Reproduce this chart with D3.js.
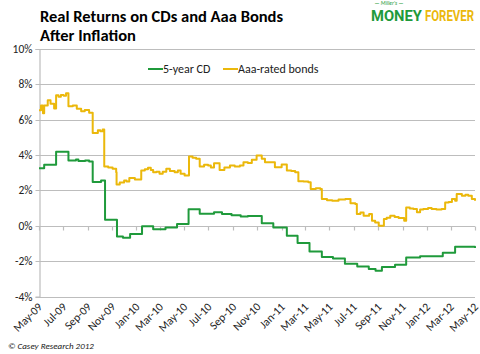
<!DOCTYPE html>
<html>
<head>
<meta charset="utf-8">
<script src="https://cdn.jsdelivr.net/npm/d3@7"></script>
<style>
  body { margin: 0; background: #fff; }
  svg { display: block; font-family: Calibri, Carlito, Lato, sans-serif; }
</style>
</head>
<body>
<svg id="chart" width="480" height="354"></svg>
<script>
// 5-year CD real return, step changes (date, %)
const cdDates = ['2009-05-01','2009-05-14','2009-06-13','2009-07-14','2009-08-02','2009-08-08','2009-08-25','2009-09-04',
  '2009-09-13','2009-10-04','2009-10-14','2009-11-13','2009-11-28','2009-12-16','2010-01-15','2010-02-12','2010-03-15',
  '2010-04-13','2010-05-12','2010-06-09','2010-07-15','2010-08-04','2010-08-28','2010-09-20','2010-10-08','2010-11-12',
  '2010-12-11','2011-01-14','2011-02-10','2011-03-12','2011-04-12','2011-05-10','2011-06-09','2011-07-10','2011-08-08',
  '2011-08-25','2011-09-10','2011-10-13','2011-11-10','2011-12-15','2012-02-10','2012-03-12','2012-05-01'];
const cdValues = [3.26, 3.45, 4.19, 3.69, 3.75, 3.67, 3.70, 3.63,
  2.48, 2.56, 0.34, -0.60, -0.68, -0.47, -0.02, -0.20, -0.10,
  0.10, 0.93, 0.68, 0.76, 0.66, 0.60, 0.52, 0.55, 0.15,
  -0.10, -0.57, -0.98, -1.46, -1.76, -1.85, -2.15, -2.30, -2.45,
  -2.55, -2.33, -2.20, -1.80, -1.72, -1.52, -1.19, -1.25];

// Aaa-rated bonds real return (date, %)
const aaaDates = ['2009-05-01','2009-05-06','2009-05-11','2009-05-14','2009-05-23','2009-05-30','2009-06-08','2009-06-13',
  '2009-06-19','2009-06-25','2009-07-02','2009-07-08','2009-07-14','2009-07-25','2009-08-04','2009-08-15','2009-08-24',
  '2009-09-04','2009-09-13','2009-09-26','2009-10-02','2009-10-08','2009-10-12','2009-10-22','2009-11-02','2009-11-11',
  '2009-11-12','2009-11-20','2009-12-01','2009-12-07','2009-12-14','2009-12-28','2010-01-13','2010-01-22','2010-01-30',
  '2010-02-06','2010-02-12','2010-02-20','2010-02-28','2010-03-08','2010-03-17','2010-03-26','2010-04-07','2010-04-15',
  '2010-04-22','2010-05-02','2010-05-13','2010-05-22','2010-05-31','2010-06-09','2010-06-20','2010-06-30','2010-07-07',
  '2010-07-15','2010-07-29','2010-08-10','2010-08-24','2010-09-05','2010-09-18','2010-09-27','2010-10-08','2010-10-18',
  '2010-10-30','2010-11-12','2010-11-20','2010-12-07','2010-12-15','2011-01-01','2011-01-14','2011-01-25','2011-02-04',
  '2011-02-12','2011-02-25','2011-03-09','2011-03-15','2011-03-28','2011-04-08','2011-04-12','2011-04-25','2011-05-08',
  '2011-05-24','2011-06-10','2011-06-23','2011-07-05','2011-07-09','2011-07-18','2011-07-26','2011-08-09','2011-08-16',
  '2011-08-24','2011-09-02','2011-09-15','2011-09-22','2011-10-01','2011-10-12','2011-10-22','2011-11-05','2011-11-10',
  '2011-11-19','2011-11-28','2011-12-07','2011-12-15','2011-12-23','2012-01-04','2012-01-13','2012-01-25','2012-02-07',
  '2012-02-16','2012-02-25','2012-03-04','2012-03-12','2012-03-16','2012-03-29','2012-04-07','2012-04-14','2012-04-23',
  '2012-05-01'];
const aaaValues = [6.53, 6.80, 6.36, 6.80, 7.10, 6.90, 6.63, 7.39,
  7.30, 7.40, 7.35, 7.50, 6.76, 6.80, 6.62, 6.48, 6.55,
  6.40, 5.25, 5.40, 5.35, 5.44, 3.35, 3.30, 3.22, 3.03,
  2.33, 2.45, 2.56, 2.50, 2.71, 2.62, 3.13, 3.20, 3.28,
  3.15, 3.03, 3.05, 2.94, 3.05, 3.22, 3.10, 3.03, 3.13,
  2.95, 2.84, 3.92, 3.85, 3.79, 3.35, 3.45, 3.41, 3.30,
  3.54, 3.16, 3.30, 3.41, 3.35, 3.41, 3.60, 3.55, 3.73,
  3.98, 3.79, 3.60, 3.60, 3.31, 3.47, 3.13, 3.10, 3.03,
  2.52, 2.50, 2.46, 2.08, 2.12, 2.08, 1.52, 1.45, 1.42,
  1.48, 1.52, 1.27, 1.23, 0.66, 0.75, 0.57, 0.66, 0.28,
  0.19, 0.00, 0.38, 0.45, 0.57, 0.50, 0.44, 0.28, 1.04,
  0.98, 0.95, 0.76, 0.92, 0.95, 1.00, 0.95, 0.92, 0.95,
  1.32, 1.35, 1.52, 1.42, 1.80, 1.70, 1.75, 1.70, 1.52,
  1.42];

const yTicks = [-4, -2, 0, 2, 4, 6, 8, 10];
const titleLines = ['Real Returns on CDs and Aaa Bonds', 'After Inflation'];
const seriesNames = ['5-year CD', 'Aaa-rated bonds'];

const GREEN = '#1f9a3b';
const GOLD = '#ebb80b';

const parse = d3.timeParse('%Y-%m-%d');
const cd = cdDates.map((d, i) => ({ date: parse(d), value: cdValues[i] }));
const aaa = aaaDates.map((d, i) => ({ date: parse(d), value: aaaValues[i] }));

const svg = d3.select('#chart');
const margin = { left: 39, right: 5, top: 49, bottom: 58 };
const width = 480, height = 354;

const x = d3.scaleTime()
  .domain([parse('2009-05-01'), parse('2012-05-01')])
  .range([margin.left, width - margin.right]);
const y = d3.scaleLinear()
  .domain([-4, 10])
  .range([height - margin.bottom + 0.5, margin.top]);

// gridlines
svg.append('g')
  .selectAll('line')
  .data(yTicks)
  .enter()
  .append('line')
  .attr('x1', margin.left).attr('x2', width - margin.right)
  .attr('y1', d => Math.round(y(d)) + 0.5).attr('y2', d => Math.round(y(d)) + 0.5)
  .attr('stroke', '#bdbdbd').attr('stroke-width', 1.2);

// y axis
const yAxis = svg.append('g')
  .attr('transform', `translate(${margin.left + 0.5},0)`)
  .call(d3.axisLeft(y).tickValues(yTicks).tickSize(4).tickPadding(3).tickFormat(d => d + '%'));
yAxis.select('.domain').attr('stroke', '#bdbdbd').attr('stroke-width', 1.2);
yAxis.selectAll('.tick line').attr('stroke', '#bdbdbd');
yAxis.selectAll('.tick text').attr('font-size', 11.5).attr('fill', '#222').attr('font-family', 'Calibri, Carlito, Lato, sans-serif');
yAxis.selectAll('.tick').attr('transform', d => `translate(0,${Math.round(y(d)) + 0.5})`);

// x tick marks at 0 line
const xTicks = d3.timeMonth.every(2).range(parse('2009-05-01'), parse('2012-05-02'));
svg.append('g')
  .selectAll('line')
  .data(xTicks)
  .enter()
  .append('line')
  .attr('x1', d => Math.round(x(d)) + 0.5).attr('x2', d => Math.round(x(d)) + 0.5)
  .attr('y1', Math.round(y(0)) + 0.5).attr('y2', Math.round(y(0)) + 4.5)
  .attr('stroke', '#bdbdbd').attr('stroke-width', 1.2);

// x labels (rotated, at bottom)
const fmt = d3.timeFormat('%b-%y');
svg.append('g')
  .selectAll('text')
  .data(xTicks)
  .enter()
  .append('text')
  .attr('transform', d => `translate(${x(d) + 4},${y(-4) + 11}) rotate(-45)`)
  .attr('text-anchor', 'end')
  .attr('font-size', 11.5)
  .attr('fill', '#222')
  .text(d => fmt(d));

// lines
const cdLine = d3.line().x(d => x(d.date)).y(d => y(d.value)).curve(d3.curveStepAfter);
const aaaLine = d3.line().x(d => x(d.date)).y(d => y(d.value)).curve(d3.curveStepAfter);

svg.append('path').datum(aaa)
  .attr('d', aaaLine).attr('fill', 'none')
  .attr('stroke', GOLD).attr('stroke-width', 2).attr('stroke-linejoin', 'round');
svg.append('path').datum(cd)
  .attr('d', cdLine).attr('fill', 'none')
  .attr('stroke', GREEN).attr('stroke-width', 2).attr('stroke-linejoin', 'round');

// legend
const legend = svg.append('g').attr('font-size', 12).attr('fill', '#222');
[[148, GREEN, seriesNames[0]], [223, GOLD, seriesNames[1]]].forEach(([lx, c, name]) => {
  legend.append('line').attr('x1', lx).attr('x2', lx + 15).attr('y1', 69).attr('y2', 69)
    .attr('stroke', c).attr('stroke-width', 2);
  legend.append('text').attr('x', lx + 15).attr('y', 73).text(name);
});

// title
svg.append('g').selectAll('text')
  .data(titleLines)
  .enter()
  .append('text')
  .attr('x', 40).attr('y', (d, i) => 22 + i * 19)
  .attr('font-size', 16.5).attr('font-weight', 'bold').attr('fill', '#000')
  .text(d => d);

// logo: condensed words squeezed to the reference width with a scale
const logo = svg.append('g');
logo.append('text').attr('x', 389).attr('y', 5).attr('text-anchor', 'middle')
  .attr('font-size', 5.5).attr('font-style', 'italic').attr('fill', GREEN).text('— Miller\'s —');
[['MONEY', 371, 51, GREEN], ['FOREVER', 425, 49, GOLD]].forEach(([word, lx, w, c]) => {
  const t = logo.append('text')
    .attr('font-family', '"Liberation Sans Narrow", Roboto, sans-serif')
    .attr('font-size', 15).attr('font-weight', 'bold').attr('fill', c)
    .text(word);
  const natural = t.node().getComputedTextLength();
  t.attr('transform', `translate(${lx},21) scale(${w / natural},1)`);
});

// footer
svg.append('text').attr('x', 8).attr('y', 349)
  .attr('font-size', 9).attr('font-style', 'italic').attr('fill', '#222')
  .text('© Casey Research 2012');
</script>
</body>
</html>
